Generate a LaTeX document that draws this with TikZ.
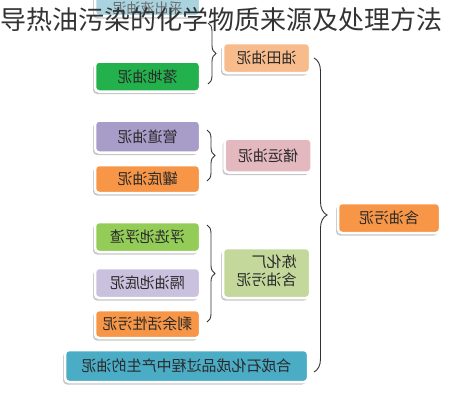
\documentclass[tikz,border=0pt]{standalone}
\usepackage{fontspec}
\usepackage{graphicx}
\setmainfont{Noto Sans CJK SC}
\usetikzlibrary{shadows,decorations.pathreplacing}
\definecolor{cTop}{HTML}{A9D3DF}
\definecolor{cGreen}{HTML}{22B14C}
\definecolor{cPeach}{HTML}{F8BC8C}
\definecolor{cPurple}{HTML}{A89CC9}
\definecolor{cOrange}{HTML}{F79646}
\definecolor{cPink}{HTML}{E4B8BF}
\definecolor{cLime}{HTML}{94CC58}
\definecolor{cLav}{HTML}{C9C1DE}
\definecolor{cOlive}{HTML}{C3D89A}
\definecolor{cBlue}{HTML}{4BACC6}
\definecolor{cText}{HTML}{2A2A2A}
\definecolor{cTitle}{HTML}{333333}
\newcommand{\mir}[1]{\scalebox{-1}[1]{#1}}
\tikzset{
  box/.style={rounded corners=4pt, draw=white, line width=2.5pt,
    drop shadow={shadow xshift=-2pt, shadow yshift=-2.5pt, fill=black!40, opacity=0.55},
    inner sep=0pt, text=cText, font=\fontsize{15}{18}\selectfont, align=center},
  lbox/.style={box, minimum width=105pt, minimum height=30pt},
  mbox/.style={box, minimum width=87pt},
  bracepath/.style={draw=black!80, line width=0.9pt, decorate},
}
\begin{document}
\begin{tikzpicture}[x=1pt,y=-1pt]
\useasboundingbox (0,0) rectangle (472,400);
\clip (0,0) rectangle (472,400);
% left column
\node[lbox, fill=cTop] (top) at (147.5,1) {};
\node[inner sep=0pt, text=cText!70, font=\fontsize{14}{16}\selectfont] (toptext) at (147.5,8.5) {\mir{采出液油泥}};
\node[lbox, fill=cGreen] (luodi) at (147.5,76.5) {\mir{落地油泥}};
\node[lbox, fill=cPurple, minimum height=32pt] (guandao) at (147.5,136.5) {\mir{管道油泥}};
\node[lbox, fill=cOrange, minimum height=28pt] (guandi) at (147.5,179) {\mir{罐底油泥}};
\node[lbox, fill=cLime] (fuxuan) at (147.5,237) {\mir{浮选池浮渣}};
\node[lbox, fill=cLav] (geyou) at (147.5,283) {\mir{隔油池底泥}};
\node[lbox, fill=cOrange, minimum height=28pt] (shengyu) at (147.5,324) {\mir{剩余活性污泥}};
\node[box, fill=cBlue, minimum width=243pt, minimum height=32pt] (hecheng) at (186.5,366) {\mir{合成石化成品过程中产生的油泥}};
% middle column
\node[mbox, fill=cPeach, minimum height=30pt] (youtian) at (266.5,58) {\mir{油田油泥}};
\node[mbox, fill=cPink, minimum height=34pt] (chuyun) at (268,155.5) {\mir{储运油泥}};
\node[mbox, fill=cOlive, minimum height=50pt] (lianhua) at (266.5,273) {\mir{\begin{tabular}{@{}l@{}}炼化厂\\含油污泥\end{tabular}}};
% right
\node[box, fill=cOrange, minimum width=102pt, minimum height=30pt] (hanyou) at (389,218) {\mir{含油污泥}};
% title
\node[anchor=west, inner sep=0pt, text=cTitle, font=\fontsize{26}{28}\selectfont] (title) at (0,20) {导热油污染的化学物质来源及处理方法};
% braces
\coordinate (b1t) at (208,23);
\coordinate (b1b) at (208,84);
\coordinate (b2t) at (207,130);
\coordinate (b2b) at (207,181);
\coordinate (b3t) at (207,225);
\coordinate (b3b) at (207,322);
\coordinate (b4t) at (314,58);
\coordinate (b4b) at (314,372);
\draw[bracepath, decoration={brace, amplitude=8pt}] (b1t) -- (b1b);
\draw[bracepath, decoration={brace, amplitude=8pt}] (b2t) -- (b2b);
\draw[bracepath, decoration={brace, amplitude=8pt}] (b3t) -- (b3b);
\draw[bracepath, decoration={brace, amplitude=13pt}] (b4t) -- (b4b);
\end{tikzpicture}
\end{document}
